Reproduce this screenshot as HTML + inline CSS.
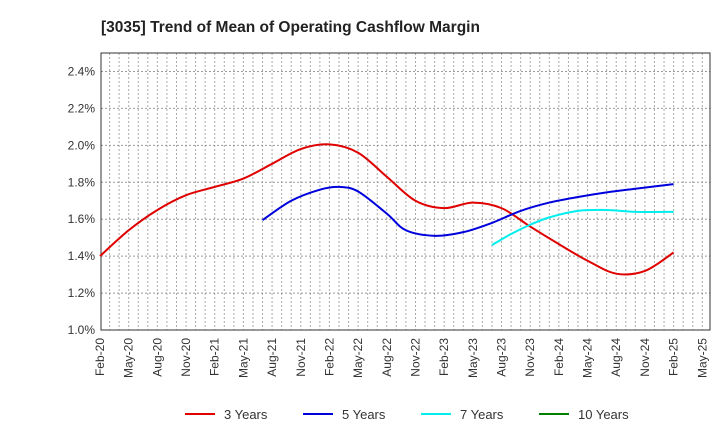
<!DOCTYPE html>
<html><head><meta charset="utf-8"><style>
body{margin:0;background:#fff;font-family:"Liberation Sans",Arial,sans-serif}
svg{display:block}
</style></head><body>
<svg id="chart" width="720" height="440" xmlns="http://www.w3.org/2000/svg">
<text x="101" y="32" font-size="15.5" font-weight="bold" fill="#222">[3035]  Trend of Mean of Operating Cashflow Margin</text>
<g id="grid"></g><g id="axes"></g><g id="series"></g><g id="legend"></g>
</svg>
<script>
const tickLabels=["Feb-20","May-20","Aug-20","Nov-20","Feb-21","May-21","Aug-21","Nov-21","Feb-22","May-22","Aug-22","Nov-22","Feb-23","May-23","Aug-23","Nov-23","Feb-24","May-24","Aug-24","Nov-24","Feb-25","May-25"];
const yTicks=[1.0,1.2,1.4,1.6,1.8,2.0,2.2,2.4];
const months3=[0,3,6,9,12,15,18,21,24,27,30,33,36,39,42,45,48,51,54,57,60];
const vals3=[1.40,1.54,1.65,1.73,1.775,1.82,1.90,1.98,2.005,1.96,1.83,1.70,1.66,1.69,1.66,1.56,1.465,1.375,1.305,1.32,1.42];
const months5=[17,20,23,25,27,30,32,35,38,41,44,47,50,53,56,60];
const vals5=[1.595,1.70,1.76,1.775,1.75,1.63,1.54,1.51,1.53,1.58,1.645,1.69,1.72,1.745,1.765,1.79];
const months7=[41,43,45,47,50,53,56,60];
const vals7=[1.46,1.52,1.57,1.61,1.645,1.65,1.64,1.64];
const months10=[];
const vals10=[];
const L=101,R=710,T=53,B=330,yMin=1.0,yMax=2.5,x0=100,pxm=9.56;
const X=m=>x0+m*pxm, Y=v=>B-(v-yMin)/(yMax-yMin)*(B-T);
const NS="http://www.w3.org/2000/svg";
function mk(t,a,p){const e=document.createElementNS(NS,t);for(const k in a)e.setAttribute(k,a[k]);p.appendChild(e);return e;}
const grid=document.getElementById('grid'),axes=document.getElementById('axes'),ser=document.getElementById('series'),leg=document.getElementById('legend');
for(let m=1;m<=63;m++){const l=mk('line',{x1:X(m),x2:X(m),y1:T,y2:B,stroke:'#aaa','stroke-dasharray':'2,2','stroke-width':1},grid);

}
yTicks.forEach(v=>{if(v>yMin){const l=mk('line',{x1:L,x2:R,y1:Y(v),y2:Y(v),stroke:'#999','stroke-dasharray':'2,2','stroke-width':1},grid);

}
const t=mk('text',{x:L-6,y:Y(v)+4,'text-anchor':'end','font-size':12,fill:'#333'},axes);t.textContent=v.toFixed(1)+'%';

});
const fr=mk('rect',{x:L,y:T,width:R-L,height:B-T,fill:'none',stroke:'#333','stroke-width':1},axes);


tickLabels.forEach((s,i)=>{const x=X(i*3)+4;const t=mk('text',{x:x,y:B+8,'text-anchor':'end','font-size':12,fill:'#333',transform:`rotate(-90 ${x} ${B+8})`},axes);t.textContent=s;

});
function path(ms,vs){const p=ms.map((m,i)=>[X(m),Y(vs[i])]);if(p.length<2)return '';let d=`M${p[0][0]},${p[0][1]}`;
for(let i=0;i<p.length-1;i++){const a=p[i-1]||p[i],b=p[i],c=p[i+1],e=p[i+2]||c;
d+=` C${b[0]+(c[0]-a[0])/6},${b[1]+(c[1]-a[1])/6} ${c[0]-(e[0]-b[0])/6},${c[1]-(e[1]-b[1])/6} ${c[0]},${c[1]}`;}return d;}
const S=[[months3,vals3,'#e00000','3 Years','series-3-years'],[months5,vals5,'#0000dd','5 Years','series-5-years'],[months7,vals7,'#00eeee','7 Years','series-7-years'],[months10,vals10,'#008000','10 Years','series-10-years']];
S.forEach((s,i)=>{const d=path(s[0],s[1]);if(d){const p=mk('path',{d:d,fill:'none',stroke:s[2],'stroke-width':2},ser);

}
const lx=[185,303,421,539][i];const g=mk('g',{},leg);


mk('line',{x1:lx,x2:lx+30,y1:414,y2:414,stroke:s[2],'stroke-width':2},g);
const t=mk('text',{x:lx+39,y:419,'font-size':13,fill:'#333'},g);t.textContent=s[3];});
</script>
</body></html>
